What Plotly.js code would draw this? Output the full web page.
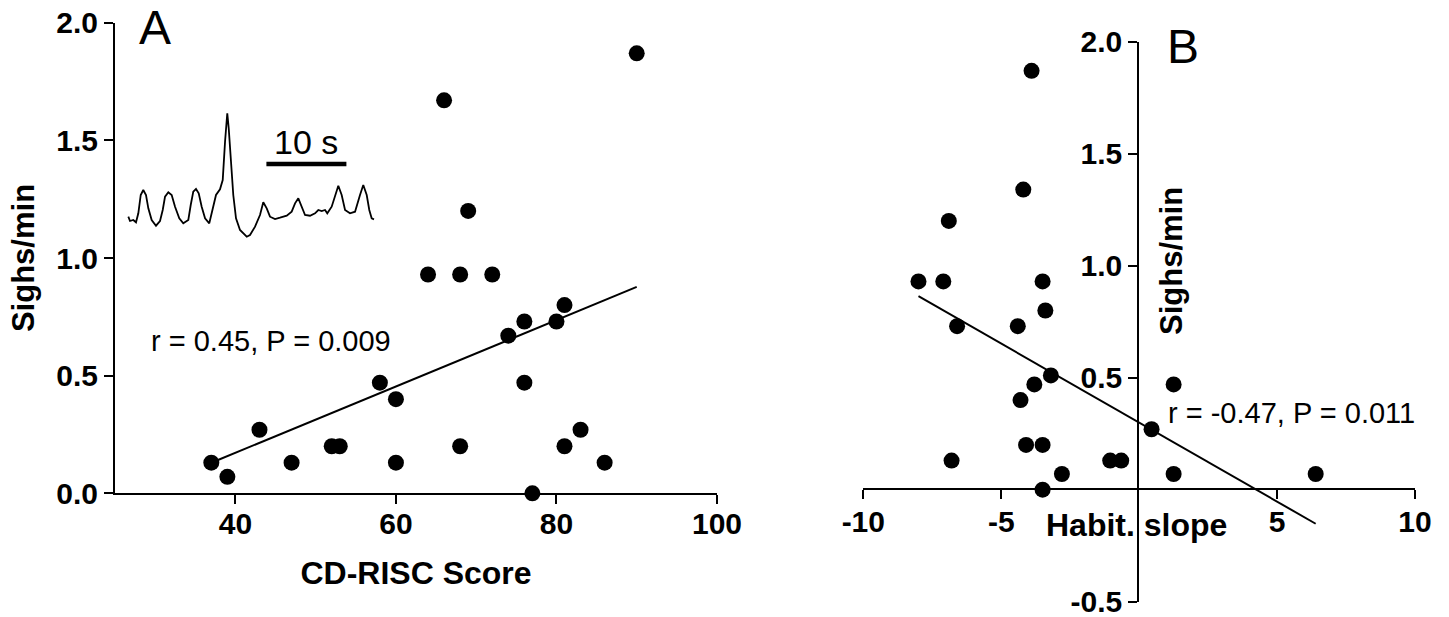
<!DOCTYPE html>
<html>
<head>
<meta charset="utf-8">
<script src="https://cdn.plot.ly/plotly-3.0.1.min.js"></script>
<style>html,body{margin:0;padding:0;background:#fff;}#chart{width:1449px;height:617px;}</style>
</head>
<body>
<div id="chart"></div>
<script>
// ---- Panel A: CD-RISC score vs sighs/min ----
const cdriscScore = [37,39,43,47,52,53,58,60,60,64,66,68,68,69,72,74,76,76,77,80,81,81,83,86,90];
const sighsA      = [0.13,0.07,0.27,0.13,0.20,0.20,0.47,0.40,0.13,0.93,1.67,0.93,0.20,1.20,0.93,0.67,0.73,0.47,0.00,0.73,0.80,0.20,0.27,0.13,1.87];
const fitA_x = [37, 90];
const fitA_y = [0.13, 0.877];
const xTicksA = [40, 60, 80, 100];
const yTicksA = [0, 0.5, 1, 1.5, 2];
const yTickTextA = ['0.0', '0.5', '1.0', '1.5', '2.0'];

// ---- Panel B: habituation slope vs sighs/min ----
const habitSlope = [-3.9,-4.2,-6.9,-8.0,-7.1,-3.5,-3.4,-6.6,-4.4,-3.2,-3.8,-4.3,-4.1,-3.5,-6.8,-1.05,-0.65,-2.8,-3.5,1.25,0.45,1.25,6.4];
const sighsB     = [1.87,1.34,1.20,0.93,0.93,0.93,0.80,0.73,0.73,0.51,0.47,0.40,0.20,0.20,0.13,0.13,0.13,0.07,0.00,0.47,0.27,0.07,0.07];
const fitB_x = [-8.0, 6.4];
const fitB_y = [0.864, -0.152];
const xTicksB = [-10, -5, 5, 10];
const xTickTextB = ['-10', '-5', '5', '10'];
const yTicksB = [-0.5, 0.5, 1, 1.5, 2];
const yTickTextB = ['-0.5', '0.5', '1.0', '1.5', '2.0'];

// ---- Inset: respiration trace (time in s, amplitude in a.u.) ----
const trace_t   = [0.04,0.25,0.66,1.0,1.29,1.59,1.91,2.25,2.54,2.96,3.5,4.0,4.34,4.63,5.04,5.46,5.88,6.41,6.91,7.54,7.84,8.16,8.5,8.84,9.21,9.63,10.16,10.59,11.0,11.5,11.84,12.13,12.25,12.41,12.59,12.84,13.16,13.5,14.0,14.84,15.25,15.88,16.5,16.91,17.34,17.75,18.38,19.0,19.84,20.46,20.88,21.29,21.71,22.13,22.75,23.38,23.79,24.21,24.63,24.91,25.46,25.88,26.29,26.71,27.13,27.75,28.38,29.0,29.41,29.84,30.16,30.46,30.75];
const trace_amp = [23.3,19,20,17.7,26.7,45,50,45,31.7,20,14.3,19,30,43.3,47.7,45,33.3,21.7,16.7,20,35,48.3,51,46.7,33.3,21.7,16.7,30,45,50.7,60,98.3,113.3,126.7,111.7,78.3,45,21.7,10,3.3,5,13.3,25,37.7,31.7,23.3,21,22.3,24.3,28.3,36.7,41.7,33.3,25,24.3,26.7,30,29,30,26.7,33.3,45,54.3,45,30,26.7,28.3,45,55,45,30,21.7,20.7];
const scaleBar_t = [17.3, 27.3];
const scaleBar_amp = [76, 76];
const scaleBarLabel = '10 s';

// ---- text ----
const panelLabels = ['A', 'B'];
const statsText = ['r = 0.45, P = 0.009', 'r = -0.47, P = 0.011'];
const yTitle = 'Sighs/min';
const xTitleA = 'CD-RISC Score';
const xTitleB = 'Habit. slope';

const FONT = 'Liberation Sans, Arial, Helvetica, sans-serif';
const W = 1449, H = 617;
const px = v => v / W;
const py = v => 1 - v / H;

const traces = [
  {x: cdriscScore, y: sighsA, type: 'scatter', mode: 'markers', xaxis: 'x', yaxis: 'y',
   marker: {size: 16, color: '#000'}, cliponaxis: false, hoverinfo: 'x+y'},
  {x: fitA_x, y: fitA_y, type: 'scatter', mode: 'lines', xaxis: 'x', yaxis: 'y',
   line: {color: '#000', width: 2}, cliponaxis: false, hoverinfo: 'skip'},
  {x: habitSlope, y: sighsB, type: 'scatter', mode: 'markers', xaxis: 'x2', yaxis: 'y2',
   marker: {size: 16, color: '#000'}, cliponaxis: false, hoverinfo: 'x+y'},
  {x: fitB_x, y: fitB_y, type: 'scatter', mode: 'lines', xaxis: 'x2', yaxis: 'y2',
   line: {color: '#000', width: 2}, cliponaxis: false, hoverinfo: 'skip'},
  {x: trace_t, y: trace_amp, type: 'scatter', mode: 'lines', xaxis: 'x3', yaxis: 'y3',
   line: {color: '#000', width: 1.8}, cliponaxis: false, hoverinfo: 'skip'},
  {x: scaleBar_t, y: scaleBar_amp, type: 'scatter', mode: 'lines', xaxis: 'x3', yaxis: 'y3',
   line: {color: '#000', width: 4.5}, cliponaxis: false, hoverinfo: 'skip'}
];

const axisCommon = {
  showline: true, linewidth: 2, linecolor: '#000', mirror: false,
  ticks: 'outside', ticklen: 9, tickwidth: 2, tickcolor: '#000',
  showgrid: false, zeroline: false, fixedrange: true,
  tickmode: 'array', ticklabeloverflow: 'allow',
  tickfont: {family: FONT, size: 30, weight: 'bold', color: '#000'}
};

const layout = {
  width: W, height: H,
  margin: {l: 0, r: 0, t: 0, b: 0, pad: 0},
  paper_bgcolor: '#fff', plot_bgcolor: 'rgba(0,0,0,0)',
  showlegend: false,
  font: {family: FONT, color: '#000'},
  xaxis: Object.assign({}, axisCommon, {
    domain: [px(115), px(717)], range: [25, 100], tickvals: xTicksA, ticktext: xTicksA.map(String),
    anchor: 'y', ticklabelstandoff: -6,
    title: {text: xTitleA, font: {family: FONT, size: 32, weight: 'bold', color: '#000'}, standoff: 22}
  }),
  yaxis: Object.assign({}, axisCommon, {
    domain: [py(493.3), py(22.7)], range: [0, 2], tickvals: yTicksA, ticktext: yTickTextA,
    anchor: 'x',
    title: {text: yTitle, font: {family: FONT, size: 31, weight: 'bold', color: '#000'}, standoff: 12}
  }),
  xaxis2: Object.assign({}, axisCommon, {
    domain: [px(863.3), px(1415)], range: [-10, 10], tickvals: xTicksB, ticktext: xTickTextB,
    anchor: 'free', position: py(488.7), side: 'bottom', ticklabelstandoff: -3
  }),
  yaxis2: Object.assign({}, axisCommon, {
    domain: [py(601.7), py(41.7)], range: [-0.5, 2], tickvals: yTicksB, ticktext: yTickTextB,
    anchor: 'free', position: px(1138.3), side: 'left'
  }),
  xaxis3: {domain: [px(120), px(380)], range: [-1, 31.5], visible: false, anchor: 'y3', fixedrange: true},
  yaxis3: {domain: [py(240), py(100)], range: [0, 140], visible: false, anchor: 'x3', fixedrange: true},
  annotations: [
    {text: panelLabels[0], xref: 'paper', yref: 'paper', x: px(155), y: py(27), xanchor: 'center', yanchor: 'middle',
     showarrow: false, font: {family: FONT, size: 48, color: '#000'}},
    {text: panelLabels[1], xref: 'paper', yref: 'paper', x: px(1182.5), y: py(47), xanchor: 'center', yanchor: 'middle',
     showarrow: false, font: {family: FONT, size: 48, color: '#000'}},
    {text: statsText[0], xref: 'x', yref: 'y', x: 29.2, y: 0.647, xanchor: 'left', yanchor: 'middle',
     showarrow: false, font: {family: FONT, size: 29, color: '#000'}},
    {text: statsText[1], xref: 'x2', yref: 'y2', x: 0.98, y: 0.343, xanchor: 'left', yanchor: 'middle',
     showarrow: false, font: {family: FONT, size: 29, color: '#000'}},
    {text: scaleBarLabel, xref: 'x3', yref: 'y3', x: 22.3, y: 98, xanchor: 'center', yanchor: 'middle',
     showarrow: false, font: {family: FONT, size: 34, color: '#000'}},
    {text: yTitle, xref: 'paper', yref: 'paper', x: px(1171), y: py(261), xanchor: 'center', yanchor: 'middle',
     textangle: -90, showarrow: false, font: {family: FONT, size: 31, weight: 'bold', color: '#000'}},
    {text: xTitleB, xref: 'paper', yref: 'paper', x: px(1136), y: py(525), xanchor: 'center', yanchor: 'middle',
     showarrow: false, font: {family: FONT, size: 32, weight: 'bold', color: '#000'}}
  ]
};

Plotly.newPlot('chart', traces, layout, {displayModeBar: false, staticPlot: true});
</script>
</body>
</html>
